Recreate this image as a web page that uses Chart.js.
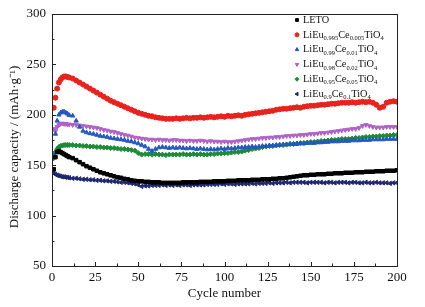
<!DOCTYPE html>
<html>
<head>
<meta charset="utf-8">
<script src="https://cdn.jsdelivr.net/npm/chart.js@4.4.1/dist/chart.umd.min.js"></script>
<style>
  body { margin: 0; background: #fff; }
  #wrap { width: 425px; height: 307px; position: relative; }
</style>
</head>
<body>
<div id="wrap"><canvas id="myChart"></canvas></div>
<script>
// cycle numbers (every cycle at the start, then every 2nd cycle)
var cycles = [1, 2, 3, 4, 5, 6, 7, 8, 9, 10];
for (var c = 12; c <= 200; c += 2) cycles.push(c);

var names = ['LETO', 'LiEu_{0.995}Ce_{0.005}TiO_{4}', 'LiEu_{0.99}Ce_{0.01}TiO_{4}',
  'LiEu_{0.98}Ce_{0.02}TiO_{4}', 'LiEu_{0.95}Ce_{0.05}TiO_{4}', 'LiEu_{0.9}Ce_{0.1}TiO_{4}'];

var leto = [146, 158, 163, 164, 163, 162, 161, 160, 159, 158,
  157, 155, 153, 151, 149, 147.5, 146, 144.5, 143, 142,
  141, 140, 139, 138, 137.5, 136.5, 136, 135, 134.5, 134,
  134, 133.5, 133.5, 133, 133, 133, 132.5, 132.5, 132.5, 132.5,
  132.5, 132.5, 133, 133, 133, 133, 133, 133.5, 133.5, 133.5,
  133.5, 134, 134, 134, 134, 134.5, 134.5, 134.5, 135, 135,
  135, 135, 135.5, 135.5, 135.5, 136, 136, 136, 136.5, 136.5,
  137, 137, 137.5, 138, 138.5, 139, 139.5, 140, 140, 140.5,
  140.5, 141, 141, 141, 141.5, 141.5, 142, 142, 142, 142.5,
  142.5, 142.5, 143, 143, 143, 143.5, 143.5, 143.5, 144, 144,
  144, 144.5, 144.5, 144.5, 145];

var ce005 = [207, 217, 226, 232, 235, 237, 238, 238, 237.5, 237,
  236, 234, 232, 230, 228, 226, 224, 222, 220, 218,
  216, 214, 212.5, 211, 209.5, 208, 206.5, 205, 203.5, 202,
  201, 200, 199, 198.5, 197.5, 197, 196.5, 196, 196, 196,
  196.5, 196, 196.5, 197, 196.5, 197, 197, 197.5, 197, 197.5,
  198, 197.5, 198, 198.5, 198, 199, 198.5, 199, 199.5, 199,
  200, 200.5, 201, 201.5, 202, 202.5, 203, 203.5, 204, 205,
  205.5, 206, 206, 206.5, 207, 207.5, 207, 208, 208.5, 209,
  209, 209.5, 210, 210, 210.5, 211, 211, 211.5, 212, 212,
  212, 212.5, 212, 212.5, 213, 212.5, 213, 212, 210, 207,
  208, 212, 213, 213.5, 213];

var ce01 = [160, 181, 194, 200, 202, 203, 203, 202, 201, 199.5,
  199, 194, 188, 184, 182.5, 181.5, 181, 180, 179, 178.5,
  178, 177, 176.5, 176, 175.5, 175, 174, 173.5, 172.5, 171.5,
  170, 168.5, 166, 164, 166, 167.5, 168, 167.5, 167, 167.5,
  167, 167.5, 167, 166.5, 167, 166.5, 166, 166.5, 166, 165.5,
  166, 165.5, 166, 166.5, 166, 167, 166.5, 167, 167.5, 167.5,
  168, 168, 168.5, 168, 168.5, 169, 169, 169.5, 169.5, 170,
  170, 170.5, 170.5, 171, 171, 171, 171.5, 171.5, 172, 172,
  172, 172.5, 172.5, 173, 173, 173.5, 173.5, 173.5, 174, 174,
  174, 174.5, 174.5, 174.5, 175, 175, 175, 175.5, 175.5, 175.5,
  175.5, 176, 176, 176, 176];

var ce02 = [186, 184, 188, 190, 191, 191.5, 191, 191, 190.5, 190.5,
  190, 190, 189.5, 189, 188.5, 188, 187.5, 187, 186, 185,
  184.5, 183.5, 183, 182, 181, 180, 179.5, 178.5, 177.5, 177,
  176.5, 176, 175.5, 175.5, 175, 175.5, 175, 175, 174.5, 175,
  175, 174.5, 174.5, 174, 174.5, 174, 174, 174.5, 174, 173.5,
  174, 173.5, 173.5, 173, 173.5, 173, 173, 173.5, 174, 174.5,
  175, 175.5, 176, 176, 176.5, 177, 177, 177.5, 177.5, 178,
  178, 178.5, 179, 179, 179.5, 179.5, 180, 180, 180.5, 181,
  181, 181.5, 182, 182, 182.5, 183, 183.5, 184, 184.5, 185,
  185.5, 186, 186, 187, 189, 190, 189, 188, 187.5, 187.5,
  187.5, 188, 188, 188, 188];

var ce05 = [157, 163, 166, 168, 169, 169.5, 170, 170, 170, 170,
  170, 169.5, 169.5, 169, 169, 168.5, 168.5, 168, 168, 167.5,
  167.5, 167, 167, 166.5, 166, 166, 165.5, 165, 164.5, 162,
  160.5, 161, 161, 160.5, 161, 160.5, 160.5, 160, 160.5, 160.5,
  160.5, 160.5, 161, 160.5, 160.5, 161, 160.5, 161, 160.5, 160.5,
  161, 161, 161.5, 161.5, 162, 162, 162.5, 163, 163, 163.5,
  164.5, 165, 166, 166.5, 167, 168, 168.5, 169, 169, 169.5,
  170, 170, 170.5, 171, 171, 171.5, 172, 172, 172.5, 173,
  173, 173.5, 174, 174, 174.5, 175, 175, 175.5, 176, 176,
  176, 176.5, 177, 177, 177.5, 178, 178, 178.5, 178.5, 179,
  179, 179.5, 179.5, 180, 180];

var ce1 = [143, 141, 140, 139.5, 139, 138.5, 138.5, 138, 138, 137.5,
  137, 137, 136.5, 136, 136, 135.5, 135.5, 135, 135, 134.5,
  134.5, 134, 134, 133.5, 133, 133, 132.5, 132, 131.5, 130.5,
  129, 129.5, 129.5, 130, 130, 130, 130.5, 130, 130.5, 130,
  130.5, 130, 130.5, 130.5, 130, 130.5, 130.5, 130.5, 130.5, 131,
  131, 131, 131, 131.5, 131, 131.5, 131.5, 131, 131.5, 131.5,
  131.5, 131.5, 132, 131.5, 132, 132, 132, 132.5, 132, 132.5,
  132.5, 132.5, 133, 132.5, 133, 133, 133, 133, 132.5, 133,
  133, 133, 133, 132.5, 133, 133, 132.5, 133, 133, 133,
  132.5, 133, 133, 132.5, 132.5, 133, 132.5, 132.5, 133, 132.5,
  132.5, 132.5, 132, 132.5, 132.5];

var xTicks = [0, 25, 50, 75, 100, 125, 150, 175, 200];
var yTicks = [50, 100, 150, 200, 250, 300];
var yTitle = 'Discharge capacity / (mAh·g⁻¹)';

var series = [leto, ce005, ce01, ce02, ce05, ce1];
var colors = ['#000000', '#e8221c', '#2457c0', '#b060c6', '#1c8a36', '#1d2670'];
var styles = ['rect', 'circle', 'triangle', 'triangle', 'rectRot', 'triangle'];
var rotations = [0, 0, 0, 180, 0, 270];

var FONT = "'Liberation Serif', 'Times New Roman', serif";

function toPoints(vals) {
  return vals.map(function (v, i) { return { x: cycles[i], y: v }; });
}

var datasets = series.map(function (s, i) {
  return {
    label: names[i],
    data: toPoints(s),
    showLine: false,
    backgroundColor: colors[i],
    borderColor: colors[i],
    pointStyle: styles[i],
    pointRotation: rotations[i],
    pointRadius: 2.5,
    pointBorderWidth: 1
  };
});

// parse "LiEu_{0.9}Ce_{0.1}TiO_{4}" into [text, isSub] parts
function parseSub(str) {
  var parts = [];
  var re = /_\{([^}]*)\}/g;
  var last = 0, m;
  while ((m = re.exec(str)) !== null) {
    if (m.index > last) parts.push([str.slice(last, m.index), false]);
    parts.push([m[1], true]);
    last = re.lastIndex;
  }
  if (last < str.length) parts.push([str.slice(last), false]);
  return parts;
}

var frame = {
  id: 'frame',
  afterDraw: function (chart) {
    var ctx = chart.ctx;
    var a = chart.chartArea;
    var xs = chart.scales.x, ys = chart.scales.y;
    ctx.save();
    ctx.strokeStyle = '#222';
    ctx.lineWidth = 1;
    ctx.strokeRect(Math.round(a.left) + 0.5, Math.round(a.top) + 0.5,
      Math.round(a.right - a.left), Math.round(a.bottom - a.top));
    // inward ticks, bottom and left only
    ctx.beginPath();
    for (var v = 0; v <= 200; v += 12.5) {
      var px = Math.round(xs.getPixelForValue(v)) + 0.5;
      var len = (v % 25 === 0) ? 4 : 2.5;
      ctx.moveTo(px, a.bottom);
      ctx.lineTo(px, a.bottom - len);
    }
    for (var w = 50; w <= 300; w += 25) {
      var py = Math.round(ys.getPixelForValue(w)) + 0.5;
      var len2 = (w % 50 === 0) ? 4 : 2.5;
      ctx.moveTo(a.left, py);
      ctx.lineTo(a.left + len2, py);
    }
    ctx.stroke();

    // y axis title
    ctx.save();
    ctx.translate(15, 147);
    ctx.rotate(-Math.PI / 2);
    ctx.fillStyle = '#111';
    ctx.font = '13px ' + FONT;
    ctx.textAlign = 'center';
    ctx.textBaseline = 'middle';
    ctx.fillText(yTitle, 0, 0);
    ctx.restore();

    // legend with subscripts
    var lx = 297, ly = 20, step = 14.8;
    for (var i = 0; i < names.length; i++) {
      var y = ly + i * step;
      ctx.fillStyle = colors[i];
      ctx.strokeStyle = colors[i];
      ctx.lineWidth = 1;
      Chart.helpers.drawPoint(ctx, {
        pointStyle: styles[i], rotation: rotations[i], radius: 2, borderWidth: 1
      }, lx, y);
      var x = lx + 6;
      ctx.fillStyle = '#111';
      ctx.textBaseline = 'middle';
      ctx.textAlign = 'left';
      parseSub(names[i]).forEach(function (p) {
        if (p[1]) {
          ctx.font = '6.5px ' + FONT;
          ctx.fillText(p[0], x, y + 3.5);
        } else {
          ctx.font = '10.3px ' + FONT;
          ctx.fillText(p[0], x, y);
        }
        x += ctx.measureText(p[0]).width;
      });
    }
    ctx.restore();
  }
};

var ctx = document.getElementById('myChart');

var myChart = new Chart(ctx, {
  type: 'scatter',
  data: { datasets: datasets },
  options: {
    responsive: true,
    maintainAspectRatio: false,
    animation: false,
    layout: { padding: { top: 14, right: 28, left: 0, bottom: 0 } },
    plugins: {
      legend: { display: false },
      tooltip: { enabled: false }
    },
    scales: {
      x: {
        type: 'linear',
        min: 0,
        max: 200,
        afterFit: function (scale) { scale.height = 41; },
        afterBuildTicks: function (scale) {
          scale.ticks = xTicks.map(function (v) { return { value: v }; });
        },
        grid: { display: false, drawTicks: false },
        border: { display: false },
        ticks: { color: '#111', padding: 4, maxRotation: 0, font: { family: FONT, size: 13 } },
        title: {
          display: true,
          text: 'Cycle number',
          color: '#111',
          padding: { top: 0, bottom: 6 },
          font: { family: FONT, size: 13 }
        }
      },
      y: {
        min: 50,
        max: 300,
        afterFit: function (scale) { scale.width = 52; },
        afterBuildTicks: function (scale) {
          scale.ticks = yTicks.map(function (v) { return { value: v }; });
        },
        grid: { display: false, drawTicks: false },
        border: { display: false },
        ticks: { color: '#111', padding: 6, font: { family: FONT, size: 13 } }
      }
    }
  },
  plugins: [frame]
});
</script>
</body>
</html>
